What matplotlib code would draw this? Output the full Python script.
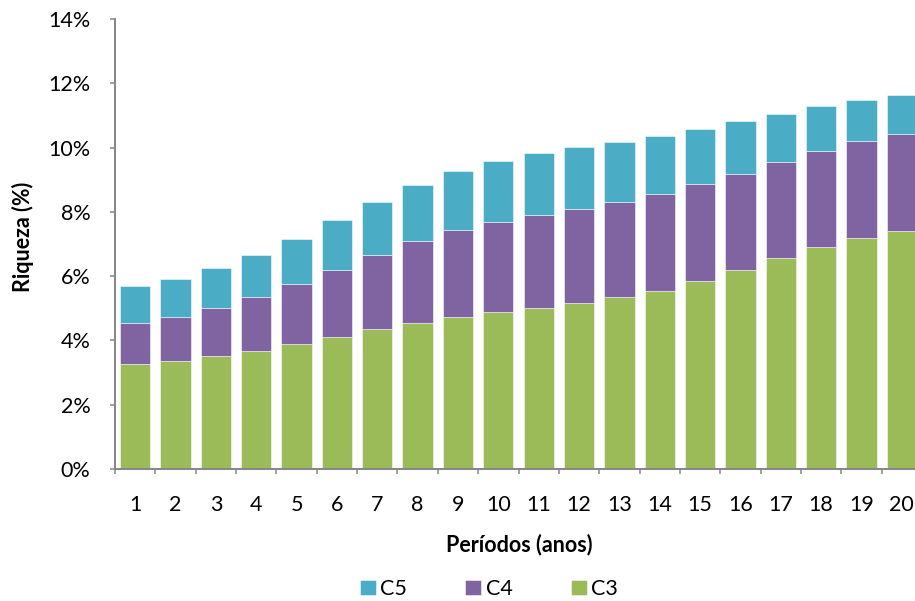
import numpy as np
import matplotlib
matplotlib.use("Agg")
import matplotlib.pyplot as plt

plt.rcParams['font.family'] = ['Lato', 'DejaVu Sans']

periodos = list(range(1, 21))

# wealth share per class, in %, stacked C3 -> C4 -> C5
c3 = [3.28, 3.37, 3.51, 3.68, 3.88, 4.12, 4.35, 4.55, 4.74, 4.88,
      5.01, 5.16, 5.34, 5.55, 5.85, 6.19, 6.56, 6.91, 7.19, 7.41]
c4 = [1.26, 1.37, 1.49, 1.66, 1.87, 2.08, 2.30, 2.53, 2.69, 2.82,
      2.90, 2.94, 2.96, 3.00, 3.01, 3.00, 2.99, 2.99, 3.01, 3.01]
c5 = [1.15, 1.17, 1.24, 1.33, 1.41, 1.55, 1.66, 1.76, 1.83, 1.88,
      1.91, 1.91, 1.87, 1.81, 1.72, 1.63, 1.51, 1.39, 1.27, 1.21]

y_ticks = [0, 2, 4, 6, 8, 10, 12, 14]

cor_c3 = "#9BBB59"
cor_c4 = "#8064A2"
cor_c5 = "#4BACC6"
cinza = "#868686"

fig = plt.figure(figsize=(9.15, 6.01), dpi=100)
ax = fig.add_axes([115 / 915, 132 / 601, 807 / 915, 450 / 601])

x = np.array(periodos)
c3 = np.array(c3)
c4 = np.array(c4)
c5 = np.array(c5)
kw = dict(width=0.75, edgecolor=(1, 1, 1, 0.6), linewidth=0.6)
b3 = ax.bar(x, c3, color=cor_c3, label="C3", **kw)
b4 = ax.bar(x, c4, bottom=c3, color=cor_c4, label="C4", **kw)
b5 = ax.bar(x, c5, bottom=c3 + c4, color=cor_c5, label="C5", **kw)

ax.set_xlim(0.5, 20.5)
ax.set_ylim(0, 14)

ax.set_yticks(y_ticks)
ax.set_yticklabels([f"{v}%" for v in y_ticks])
ax.set_xticks(x)
ax.set_xticklabels([str(p) for p in periodos])
ax.set_xticks(np.arange(0.5, 21, 1), minor=True)

ax.tick_params(axis='y', direction='out', length=3.6, width=1.1, color=cinza,
               pad=14, labelsize=15.5)
ax.tick_params(axis='x', which='major', length=0, pad=19, labelsize=15.5)
ax.tick_params(axis='x', which='minor', direction='out', length=3.6, width=1.1,
               color=cinza)

for s in ("top", "right"):
    ax.spines[s].set_visible(False)
for s in ("left", "bottom"):
    ax.spines[s].set_color(cinza)
    ax.spines[s].set_linewidth(1.4)

fig.text(519 / 915, 1 - 545 / 601, "Períodos (anos)", ha='center', va='center',
         fontsize=15.5, fontweight='bold')
fig.text(23 / 915, 1 - 237 / 601, "Riqueza (%)", ha='center', va='center',
         rotation=90, fontsize=15.5, fontweight='bold')

fig.legend([b5, b4, b3], ["C5", "C4", "C3"], loc='center',
           bbox_to_anchor=(489 / 915, 1 - 589 / 601), ncol=3, frameon=False,
           fontsize=15.5, handlelength=0.75, handleheight=0.75,
           handletextpad=0.2, columnspacing=2.7)

fig.savefig("out.png", dpi=100)
